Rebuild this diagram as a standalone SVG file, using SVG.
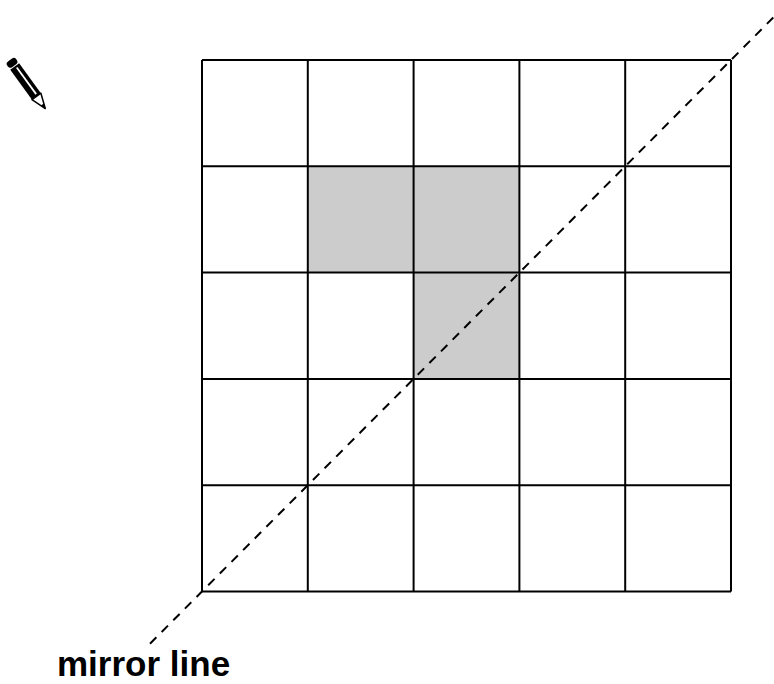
<svg xmlns="http://www.w3.org/2000/svg" width="774" height="684" viewBox="0 0 774 684">
  <style>
    .grid line { stroke: #000; stroke-width: 2; }
    .shade { fill: #cccccc; stroke: none; }
    .mirror { stroke: #000; stroke-width: 2; stroke-dasharray: 9 7.5; fill: none; }
    .label { font-family: "Liberation Sans", Arial, sans-serif; font-weight: bold; font-size: 35px; fill: #000; }
  </style>
  <rect width="774" height="684" fill="#fff"/>
  <g id="shaded-cells">
    <rect class="shade" x="307.8" y="166.3" width="105.8" height="106.3"/>
    <rect class="shade" x="413.6" y="166.3" width="105.8" height="106.3"/>
    <rect class="shade" x="413.6" y="272.6" width="105.8" height="106.3"/>
  </g>
  <g id="grid" class="grid">
    <line x1="202" y1="60" x2="202" y2="591.5"/>
    <line x1="307.8" y1="60" x2="307.8" y2="591.5"/>
    <line x1="413.6" y1="60" x2="413.6" y2="591.5"/>
    <line x1="519.4" y1="60" x2="519.4" y2="591.5"/>
    <line x1="625.2" y1="60" x2="625.2" y2="591.5"/>
    <line x1="731" y1="60" x2="731" y2="591.5"/>
    <line x1="202" y1="60" x2="731" y2="60"/>
    <line x1="202" y1="166.3" x2="731" y2="166.3"/>
    <line x1="202" y1="272.6" x2="731" y2="272.6"/>
    <line x1="202" y1="378.9" x2="731" y2="378.9"/>
    <line x1="202" y1="485.2" x2="731" y2="485.2"/>
    <line x1="202" y1="591.5" x2="731" y2="591.5"/>
  </g>
  <g id="connectors">
    <line class="mirror" x1="150" y1="643.7" x2="774" y2="16.8"/>
  </g>
  <g id="pencil" transform="translate(10,60) rotate(54)">
    <rect x="0" y="-5.5" width="7" height="11" rx="3" fill="#000"/>
    <rect x="8" y="-5.5" width="37" height="11" fill="#000"/>
    <rect x="10" y="-2" width="33" height="1.8" fill="#fff"/>
    <path d="M45,-5.5 L60,0 L45,5.5 Z" fill="#fff" stroke="#000" stroke-width="1.5" stroke-linejoin="round"/>
    <path d="M55,-1.8 L61,0 L55,1.8 Z" fill="#000"/>
  </g>
  <g id="label">
    <text class="label" x="57" y="676">mirror line</text>
  </g>
</svg>
